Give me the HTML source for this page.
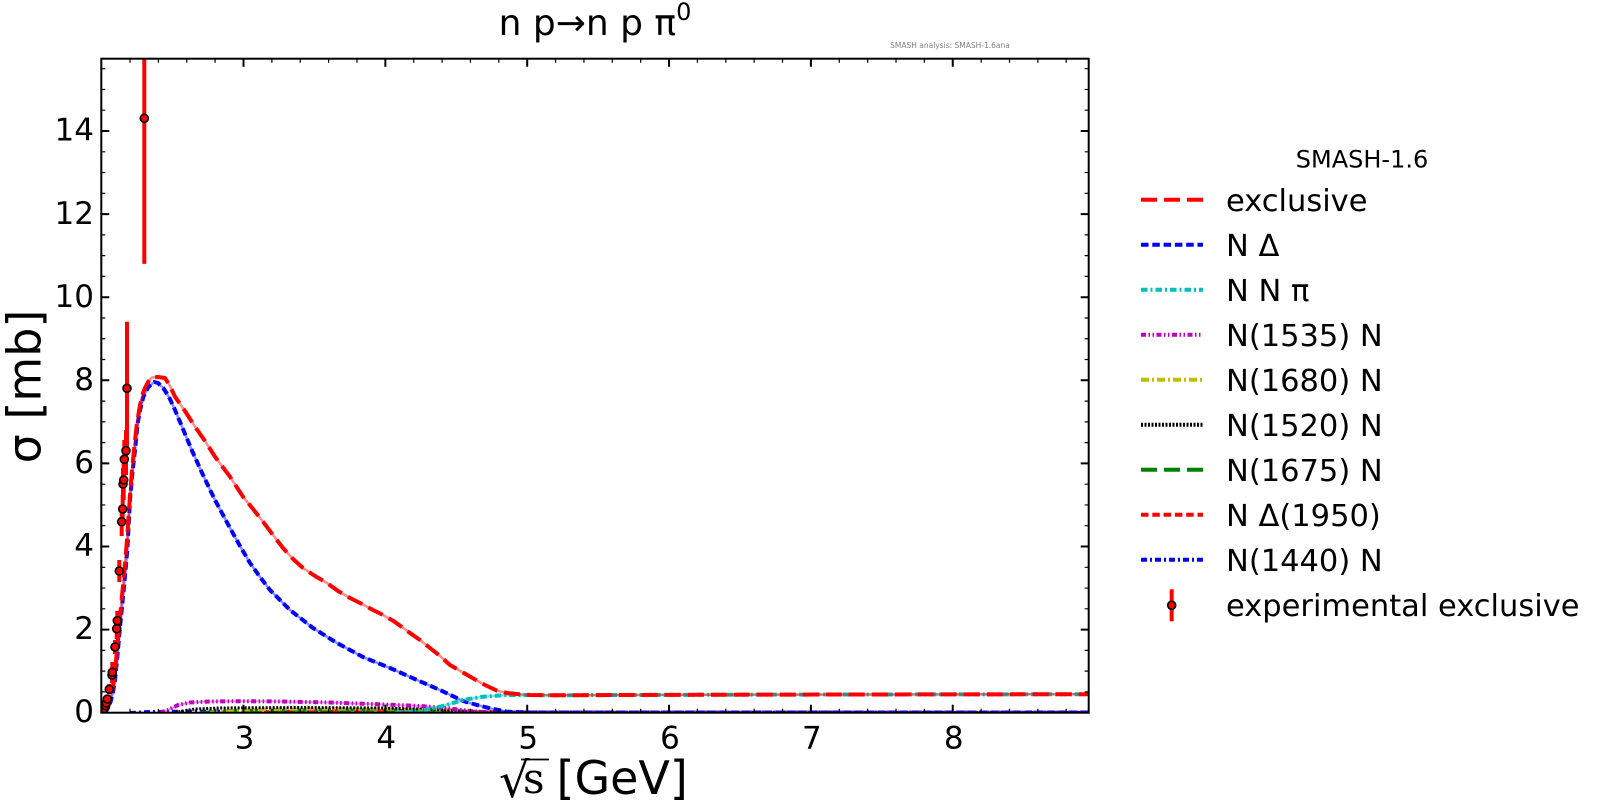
<!DOCTYPE html>
<html>
<head>
<meta charset="utf-8">
<style>
  html,body{margin:0;padding:0;background:#fff;}
  svg{display:block;}
  text{font-family:"DejaVu Sans","Liberation Sans",sans-serif;fill:#000;}
</style>
</head>
<body>
<svg width="1600" height="811" viewBox="0 0 1600 811" xmlns="http://www.w3.org/2000/svg">
  <defs>
    <clipPath id="pc"><rect x="101.3" y="58.7" width="987.4" height="654"/></clipPath>
  </defs>
  <rect x="0" y="0" width="1600" height="811" fill="#fff"/>

  <!-- Title -->
  <text x="595" y="35" font-size="36" text-anchor="middle">n p→n p π<tspan font-size="24" dy="-15">0</tspan></text>
  <text x="950" y="48" font-size="7.5" fill="#808080" text-anchor="middle" style="fill:#808080">SMASH analysis: SMASH-1.6ana</text>

  <!-- Plot content -->
  <g clip-path="url(#pc)" fill="none" stroke-linejoin="round">
    <!-- small contributions near zero -->
    <path d="M130,712.5 L150,711.5 L200,711 L260,711.3 L350,711.5 L450,712 L1089,712.3" stroke="#0000ff" stroke-width="3" stroke-dasharray="6,3,2,3"/>
    <path d="M230,712.5 L300,711 L400,710.5 L470,711 L510,712.3 L1089,712.5" stroke="#ff0000" stroke-width="3" stroke-dasharray="7.5,3.8"/>
    <path d="M200,712.5 L230,710.5 L320,709.8 L420,710 L470,711.5 L500,712.5 L1089,712.5" stroke="#008000" stroke-width="3" stroke-dasharray="16,7"/>
    <path d="M210,712.5 L240,710 L300,709 L400,709 L450,710 L480,712.3 L1089,712.5" stroke="#bfbf00" stroke-width="3" stroke-dasharray="8,3,2,3"/>
    <path d="M175,712.5 L195,709 L220,708 L300,707.5 L380,708 L440,709.5 L470,712 L1089,712.5" stroke="#000" stroke-width="3" stroke-dasharray="2,1.5"/>
    <path d="M160,712.5 L168,710 L178,705 L190,702.5 L210,701.5 L240,701.2 L280,701.5 L330,702.5 L385,704.5 L420,706 L445,708 L470,711 L490,712.5 L1089,712.5" stroke="#bf00bf" stroke-width="2" stroke-opacity="0.4"/>
    <path d="M160,712.5 L168,710 L178,705 L190,702.5 L210,701.5 L240,701.2 L280,701.5 L330,702.5 L385,704.5 L420,706 L445,708 L470,711 L490,712.5 L1089,712.5" stroke="#bf00bf" stroke-width="4" stroke-dasharray="5,2.5,1.5,2.5,1.5,2.5"/>

    <!-- N Delta (blue) -->
    <path d="M103,712.5 L106,711 L108,708 L110.5,702 L113,692 L115,680 L117.5,655 L120,627 L122,607 L124,587 L127.3,550 L130,500 L132.5,472 L135,450 L137.7,423 L140.5,408 L143.3,397 L148.3,387 L154.3,382 L158,383 L163.3,388 L169,397 L175,410 L183,429 L191.7,450 L203,475 L215,500 L230,528 L240,546 L250,563 L260,577 L270,590 L290,610 L313,628 L337,643 L363,657 L390,668 L417,680 L440,690 L463,701 L477,705 L490,708.3 L507,711.7 L530,712.5 L1089,712.5" stroke="#0000ff" stroke-width="2.5" stroke-opacity="0.45"/>
    <path d="M103,712.5 L106,711 L108,708 L110.5,702 L113,692 L115,680 L117.5,655 L120,627 L122,607 L124,587 L127.3,550 L130,500 L132.5,472 L135,450 L137.7,423 L140.5,408 L143.3,397 L148.3,387 L154.3,382 L158,383 L163.3,388 L169,397 L175,410 L183,429 L191.7,450 L203,475 L215,500 L230,528 L240,546 L250,563 L260,577 L270,590 L290,610 L313,628 L337,643 L363,657 L390,668 L417,680 L440,690 L463,701 L477,705 L490,708.3 L507,711.7 L530,712.5 L1089,712.5" stroke="#0000ff" stroke-width="4" stroke-dasharray="7.5,3.8"/>

    <!-- N N pi (cyan) -->
    <path d="M395,712.5 L420,711 L443,706 L463,700 L483,696.7 L507,695 L560,695.3 L620,695 L700,694.8 L780,694.6 L860,694.5 L940,694.4 L1020,694.3 L1089,694.2" stroke="#00bfbf" stroke-width="2.5" stroke-opacity="0.45"/>
    <path d="M395,712.5 L420,711 L443,706 L463,700 L483,696.7 L507,695 L560,695.3 L620,695 L700,694.8 L780,694.6 L860,694.5 L940,694.4 L1020,694.3 L1089,694.2" stroke="#00bfbf" stroke-width="4" stroke-dasharray="6.5,3,2,3"/>

    <!-- exclusive (red) -->
    <path d="M103,712.5 L106,710 L108,706 L110.5,698 L113,686 L115,672 L117.5,645 L120,617 L122,596 L124,575 L127,540 L130,495 L132,470 L134,450 L136.7,425 L140,405 L143,393 L145,388 L148,382 L152,377.5 L158,377 L165,378 L170,386 L175,396.7 L185,411 L195,426.7 L205,441 L215,456.7 L230,476.7 L243,496.7 L253,509 L263,521.7 L273,535 L283,548 L293,559 L303,568 L315,576 L327,583 L338,591 L350,598 L362,604 L373,610 L383,615 L393,620.7 L402,627 L410,633 L420,640 L430,648 L440,656 L450,665 L462,672 L473,678.3 L485,685 L497,690.7 L507,693 L517,694 L530,695 L560,695.3 L620,695 L700,694.8 L780,694.6 L860,694.5 L940,694.4 L1020,694.3 L1089,694.2" stroke="#ff0000" stroke-width="2.5" stroke-opacity="0.45"/>
    <path d="M103,712.5 L106,710 L108,706 L110.5,698 L113,686 L115,672 L117.5,645 L120,617 L122,596 L124,575 L127,540 L130,495 L132,470 L134,450 L136.7,425 L140,405 L143,393 L145,388 L148,382 L152,377.5 L158,377 L165,378 L170,386 L175,396.7 L185,411 L195,426.7 L205,441 L215,456.7 L230,476.7 L243,496.7 L253,509 L263,521.7 L273,535 L283,548 L293,559 L303,568 L315,576 L327,583 L338,591 L350,598 L362,604 L373,610 L383,615 L393,620.7 L402,627 L410,633 L420,640 L430,648 L440,656 L450,665 L462,672 L473,678.3 L485,685 L497,690.7 L507,693 L517,694 L530,695 L560,695.3 L620,695 L700,694.8 L780,694.6 L860,694.5 L940,694.4 L1020,694.3 L1089,694.2" stroke="#ff0000" stroke-width="4" stroke-dasharray="16,7"/>

    <!-- error bars -->
    <g stroke="#ff0000" stroke-width="4">
      <line x1="144.3" y1="40" x2="144.3" y2="263.9"/>
      <line x1="127" y1="321.7" x2="127" y2="455"/>
      <line x1="126" y1="430" x2="126" y2="475"/>
      <line x1="124.3" y1="440" x2="124.3" y2="480"/>
      <line x1="123.7" y1="462" x2="123.7" y2="500"/>
      <line x1="123" y1="468" x2="123" y2="500"/>
      <line x1="122.7" y1="495" x2="122.7" y2="523"/>
      <line x1="121.7" y1="507" x2="121.7" y2="536"/>
      <line x1="119.3" y1="560" x2="119.3" y2="582"/>
      <line x1="117.3" y1="611" x2="117.3" y2="630"/>
      <line x1="116.7" y1="618" x2="116.7" y2="639"/>
      <line x1="115" y1="640" x2="115" y2="654"/>
      <line x1="112.3" y1="662" x2="112.3" y2="681"/>
      <line x1="112" y1="667" x2="112" y2="683"/>
      <line x1="109.3" y1="684" x2="109.3" y2="694"/>
      <line x1="107.3" y1="695" x2="107.3" y2="703"/>
      <line x1="106.3" y1="699" x2="106.3" y2="707"/>
      <line x1="105.7" y1="702" x2="105.7" y2="709"/>
      <line x1="104" y1="705" x2="104" y2="712"/>
    </g>
    <!-- data points -->
    <g fill="#ff0000" stroke="#000" stroke-width="1.6">
      <circle cx="104" cy="708.5" r="4"/>
      <circle cx="105.7" cy="705.7" r="4"/>
      <circle cx="106.3" cy="703" r="4"/>
      <circle cx="107.3" cy="699" r="4"/>
      <circle cx="109.3" cy="689.3" r="4"/>
      <circle cx="112" cy="675" r="4"/>
      <circle cx="112.3" cy="672.3" r="4"/>
      <circle cx="115" cy="647" r="4"/>
      <circle cx="116.7" cy="628.7" r="4"/>
      <circle cx="117.3" cy="620.7" r="4"/>
      <circle cx="119.3" cy="571" r="4"/>
      <circle cx="121.7" cy="521.7" r="4"/>
      <circle cx="122.7" cy="509" r="4"/>
      <circle cx="123" cy="484" r="4"/>
      <circle cx="123.7" cy="480" r="4"/>
      <circle cx="124.3" cy="459.3" r="4"/>
      <circle cx="126" cy="450.7" r="4"/>
      <circle cx="127" cy="388.3" r="4"/>
      <circle cx="144.3" cy="118.3" r="4"/>
    </g>
  </g>

  <!-- Axes frame -->
  <rect x="101.3" y="58.7" width="987.4" height="654" fill="none" stroke="#000" stroke-width="2"/>

  <!-- X ticks: major -->
  <g stroke="#000" stroke-width="2">
    <path d="M243.5,712.7 v-8 M385.35,712.7 v-8 M527.2,712.7 v-8 M669.05,712.7 v-8 M810.9,712.7 v-8 M952.75,712.7 v-8"/>
    <path d="M243.5,58.7 v8 M385.35,58.7 v8 M527.2,58.7 v8 M669.05,58.7 v8 M810.9,58.7 v8 M952.75,58.7 v8"/>
  </g>
  <!-- X ticks: minor -->
  <g stroke="#000" stroke-width="1.2">
    <path d="M130.02,712.7 v-4 M158.39,712.7 v-4 M186.76,712.7 v-4 M215.13,712.7 v-4 M271.87,712.7 v-4 M300.24,712.7 v-4 M328.61,712.7 v-4 M356.98,712.7 v-4 M413.72,712.7 v-4 M442.09,712.7 v-4 M470.46,712.7 v-4 M498.83,712.7 v-4 M555.57,712.7 v-4 M583.94,712.7 v-4 M612.31,712.7 v-4 M640.68,712.7 v-4 M697.42,712.7 v-4 M725.79,712.7 v-4 M754.16,712.7 v-4 M782.53,712.7 v-4 M839.27,712.7 v-4 M867.64,712.7 v-4 M896.01,712.7 v-4 M924.38,712.7 v-4 M981.12,712.7 v-4 M1009.49,712.7 v-4 M1037.86,712.7 v-4 M1066.23,712.7 v-4"/>
    <path d="M130.02,58.7 v4 M158.39,58.7 v4 M186.76,58.7 v4 M215.13,58.7 v4 M271.87,58.7 v4 M300.24,58.7 v4 M328.61,58.7 v4 M356.98,58.7 v4 M413.72,58.7 v4 M442.09,58.7 v4 M470.46,58.7 v4 M498.83,58.7 v4 M555.57,58.7 v4 M583.94,58.7 v4 M612.31,58.7 v4 M640.68,58.7 v4 M697.42,58.7 v4 M725.79,58.7 v4 M754.16,58.7 v4 M782.53,58.7 v4 M839.27,58.7 v4 M867.64,58.7 v4 M896.01,58.7 v4 M924.38,58.7 v4 M981.12,58.7 v4 M1009.49,58.7 v4 M1037.86,58.7 v4 M1066.23,58.7 v4"/>
  </g>
  <!-- Y ticks: major -->
  <g stroke="#000" stroke-width="2">
    <path d="M101.3,629.6 h8 M101.3,546.5 h8 M101.3,463.4 h8 M101.3,380.3 h8 M101.3,297.2 h8 M101.3,214.1 h8 M101.3,131 h8"/>
    <path d="M1088.7,629.6 h-8 M1088.7,546.5 h-8 M1088.7,463.4 h-8 M1088.7,380.3 h-8 M1088.7,297.2 h-8 M1088.7,214.1 h-8 M1088.7,131 h-8"/>
  </g>
  <!-- Y ticks: minor -->
  <g stroke="#000" stroke-width="1.2">
    <path d="M101.3,691.9 h4 M101.3,671.15 h4 M101.3,650.4 h4 M101.3,608.8 h4 M101.3,588.05 h4 M101.3,567.3 h4 M101.3,525.7 h4 M101.3,504.95 h4 M101.3,484.2 h4 M101.3,442.6 h4 M101.3,421.85 h4 M101.3,401.1 h4 M101.3,359.5 h4 M101.3,338.75 h4 M101.3,318 h4 M101.3,276.4 h4 M101.3,255.65 h4 M101.3,234.9 h4 M101.3,193.3 h4 M101.3,172.55 h4 M101.3,151.8 h4 M101.3,110.2 h4 M101.3,89.45 h4 M101.3,68.7 h4"/>
    <path d="M1088.7,691.9 h-4 M1088.7,671.15 h-4 M1088.7,650.4 h-4 M1088.7,608.8 h-4 M1088.7,588.05 h-4 M1088.7,567.3 h-4 M1088.7,525.7 h-4 M1088.7,504.95 h-4 M1088.7,484.2 h-4 M1088.7,442.6 h-4 M1088.7,421.85 h-4 M1088.7,401.1 h-4 M1088.7,359.5 h-4 M1088.7,338.75 h-4 M1088.7,318 h-4 M1088.7,276.4 h-4 M1088.7,255.65 h-4 M1088.7,234.9 h-4 M1088.7,193.3 h-4 M1088.7,172.55 h-4 M1088.7,151.8 h-4 M1088.7,110.2 h-4 M1088.7,89.45 h-4 M1088.7,68.7 h-4"/>
  </g>

  <!-- Y tick labels -->
  <g font-size="31" text-anchor="end">
    <text x="94" y="722">0</text>
    <text x="94" y="639">2</text>
    <text x="94" y="556">4</text>
    <text x="94" y="473">6</text>
    <text x="94" y="390">8</text>
    <text x="94" y="307">10</text>
    <text x="94" y="224">12</text>
    <text x="94" y="140.5">14</text>
  </g>
  <!-- X tick labels -->
  <g font-size="31" text-anchor="middle">
    <text x="244.5" y="748.3">3</text>
    <text x="386.3" y="748.3">4</text>
    <text x="528.2" y="748.3">5</text>
    <text x="670" y="748.3">6</text>
    <text x="811.9" y="748.3">7</text>
    <text x="953.7" y="748.3">8</text>
  </g>

  <!-- X axis label -->
  <text x="499" y="797" font-size="48">√</text>
  <line x1="521" y1="759.5" x2="549" y2="759.5" stroke="#000" stroke-width="1.8"/>
  <text x="523" y="793" font-size="42" style="font-family:'DejaVu Serif','Liberation Serif',serif">s</text>
  <text x="556.5" y="794" font-size="46">[GeV]</text>

  <!-- Y axis label -->
  <text transform="translate(40.5,386.5) rotate(-90)" font-size="46" text-anchor="middle">σ [mb]</text>

  <!-- Legend -->
  <text x="1362" y="167.7" font-size="24" text-anchor="middle">SMASH-1.6</text>
  <g fill="none" stroke-width="4">
    <line x1="1141" y1="199.7" x2="1203" y2="199.7" stroke="#ff0000" stroke-dasharray="16,7"/>
    <line x1="1141" y1="244.7" x2="1203" y2="244.7" stroke="#0000ff" stroke-dasharray="7.5,3.8"/>
    <line x1="1141" y1="289.7" x2="1203" y2="289.7" stroke="#00bfbf" stroke-dasharray="6.5,3,2,3"/>
    <line x1="1141" y1="334.7" x2="1203" y2="334.7" stroke="#bf00bf" stroke-dasharray="5,2.5,1.5,2.5,1.5,2.5"/>
    <line x1="1141" y1="379.7" x2="1203" y2="379.7" stroke="#bfbf00" stroke-dasharray="8,3,2,3"/>
    <line x1="1141" y1="424.7" x2="1203" y2="424.7" stroke="#000000" stroke-dasharray="2,1.5"/>
    <line x1="1141" y1="469.7" x2="1203" y2="469.7" stroke="#008000" stroke-dasharray="16,7"/>
    <line x1="1141" y1="514.7" x2="1203" y2="514.7" stroke="#ff0000" stroke-dasharray="7.5,3.8"/>
    <line x1="1141" y1="559.7" x2="1203" y2="559.7" stroke="#0000ff" stroke-dasharray="6,3,2,3"/>
    <line x1="1171.7" y1="589.3" x2="1171.7" y2="621.3" stroke="#ff0000"/>
  </g>
  <circle cx="1171.7" cy="605.3" r="4" fill="#ff0000" stroke="#000" stroke-width="1.6"/>
  <g font-size="30.5">
    <text x="1226" y="211">exclusive</text>
    <text x="1226" y="256">N Δ</text>
    <text x="1226" y="301">N N π</text>
    <text x="1226" y="346">N(1535) N</text>
    <text x="1226" y="391">N(1680) N</text>
    <text x="1226" y="436">N(1520) N</text>
    <text x="1226" y="481">N(1675) N</text>
    <text x="1226" y="526">N Δ(1950)</text>
    <text x="1226" y="571">N(1440) N</text>
    <text x="1226" y="616">experimental exclusive</text>
  </g>
</svg>
</body>
</html>
